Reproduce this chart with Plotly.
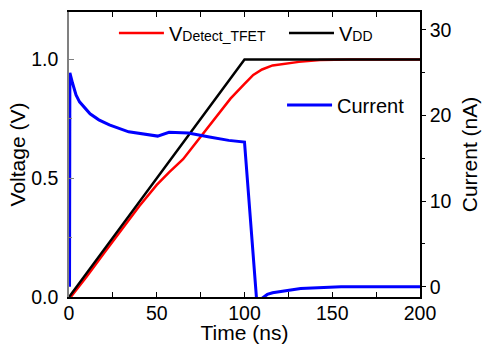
import plotly.graph_objects as go

# Time (ns) and voltage data
t_vdd = [0, 100, 200]
v_vdd = [0.0, 1.0, 1.0]

t_det = [1, 10, 20, 30, 40, 50, 57, 65, 75, 85, 92, 100, 105, 110, 116, 131, 143, 160, 200]
v_det = [0.0, 0.085, 0.185, 0.285, 0.382, 0.472, 0.525, 0.58, 0.675, 0.77, 0.835,
         0.897, 0.935, 0.958, 0.975, 0.99, 0.998, 1.0, 1.0]

t_cur = [0.3, 0.5, 2, 4, 6, 9, 12, 17, 23, 34, 50.5, 57, 68, 80, 91, 100, 107, 113, 116, 132, 155, 200]
i_cur = [0.0, 25.0, 23.8, 22.4, 21.6, 20.9, 20.2, 19.5, 18.9, 18.1, 17.6, 18.05, 17.95,
         17.5, 17.1, 16.9, -1.8, -0.9, -0.7, -0.2, 0.0, 0.0]

x_ticks = [0, 50, 100, 150, 200]
y_ticks = [0.0, 0.5, 1.0]
y2_ticks = [0, 10, 20, 30]

FONT = "Liberation Sans, Arial, sans-serif"

fig = go.Figure()
fig.add_trace(go.Scatter(
    x=t_det, y=v_det, mode="lines", line=dict(color="#FF0000", width=2.5),
    name='V<span style="font-size:14px">Detect_TFET</span>', legend="legend"))
fig.add_trace(go.Scatter(
    x=t_vdd, y=v_vdd, mode="lines", line=dict(color="#000000", width=2.5),
    name='V<span style="font-size:14px">DD</span>', legend="legend2"))
fig.add_trace(go.Scatter(
    x=t_cur, y=i_cur, mode="lines", line=dict(color="#0000FF", width=3),
    name="Current", yaxis="y2", legend="legend3"))

leg_common = dict(xanchor="left", yanchor="middle", bgcolor="rgba(0,0,0,0)",
                  font=dict(size=20), itemwidth=45)

fig.update_layout(
    width=484, height=344, showlegend=True,
    margin=dict(l=69, r=64, t=12, b=47),
    paper_bgcolor="white", plot_bgcolor="white",
    font=dict(family=FONT, size=19.5, color="black"),
    xaxis=dict(range=[0, 200], tickvals=x_ticks, ticks="inside", ticklen=5,
               tickcolor="black", tickwidth=1.2, ticklabelstandoff=-2,
               showline=True, linecolor="black", linewidth=1.5, mirror="allticks",
               showgrid=False, zeroline=False, automargin=False,
               minor=dict(dtick=25, ticks="inside", ticklen=3, tickcolor="black"),
               title=dict(text="Time (ns)", standoff=8, font=dict(size=21))),
    yaxis=dict(range=[0, 1.2], tickvals=y_ticks, tickformat=".1f", ticks="inside",
               ticklen=5, tickcolor="#808080", tickwidth=1.2, ticklabelstandoff=5,
               showline=True, linecolor="#808080", linewidth=1.5,
               showgrid=False, zeroline=False, automargin=False,
               minor=dict(tickvals=[0.25, 0.75], ticks="inside", ticklen=3,
                          tickcolor="#808080"),
               title=dict(text="Voltage (V)", standoff=0, font=dict(size=21))),
    yaxis2=dict(range=[-1.2, 32.1], tickvals=y2_ticks, overlaying="y", side="right",
                ticks="outside", ticklen=4, tickcolor="black", tickwidth=1.2,
                showline=True, linecolor="black",
                linewidth=1.5, showgrid=False, zeroline=False, automargin=False,
                minor=dict(tickvals=[5, 15, 25], ticks="outside", ticklen=3,
                           tickcolor="black"),
                title=dict(text="Current (nA)", standoff=12, font=dict(size=21))),
    legend=dict(x=0.128, y=0.926, **leg_common),
    legend2=dict(x=0.6125, y=0.926, **leg_common),
    legend3=dict(x=0.607, y=0.674, **leg_common),
)

fig.write_html("out.html", config={"displayModeBar": False},
               post_script="document.body.style.margin='0';")
